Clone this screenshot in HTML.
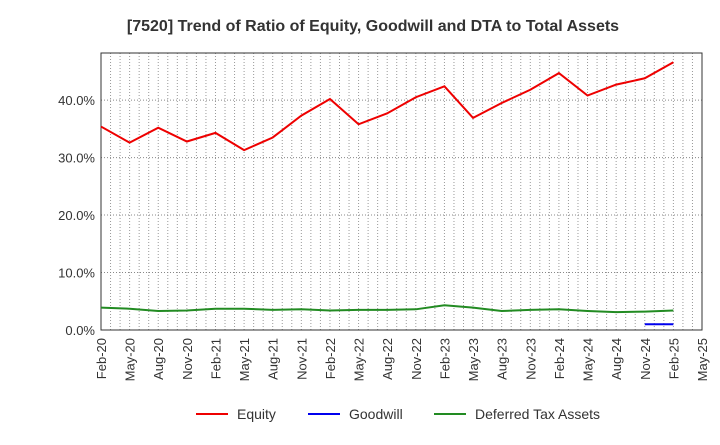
<!DOCTYPE html>
<html><head><meta charset="utf-8"><style>
body{margin:0;background:#fff;font-family:"Liberation Sans",sans-serif}
</style></head><body>
<svg id="c" width="720" height="440" xmlns="http://www.w3.org/2000/svg">
<text x="373" y="31" text-anchor="middle" font-size="16" font-weight="bold" fill="#333">[7520]  Trend of Ratio of Equity, Goodwill and DTA to Total Assets</text>
<g id="grid"></g><g id="axes"></g><g id="series"></g>
<g>
<line x1="196" y1="414" x2="228" y2="414" stroke="#e00" stroke-width="2"/><text x="237" y="419" font-size="14" fill="#333">Equity</text>
<line x1="308" y1="414" x2="340" y2="414" stroke="#00e" stroke-width="2"/><text x="349" y="419" font-size="14" fill="#333">Goodwill</text>
<line x1="434" y1="414" x2="466" y2="414" stroke="#228b22" stroke-width="2"/><text x="475" y="419" font-size="14" fill="#333">Deferred Tax Assets</text>
</g>
</svg>
<script>
const categories=["Feb-20","May-20","Aug-20","Nov-20","Feb-21","May-21","Aug-21","Nov-21","Feb-22","May-22","Aug-22","Nov-22","Feb-23","May-23","Aug-23","Nov-23","Feb-24","May-24","Aug-24","Nov-24","Feb-25","May-25"];
const equity=[35.4,32.6,35.2,32.8,34.3,31.3,33.5,37.3,40.2,35.8,37.7,40.5,42.4,36.9,39.5,41.8,44.7,40.8,42.7,43.8,46.6];
const goodwill=[null,null,null,null,null,null,null,null,null,null,null,null,null,null,null,null,null,null,null,1.0,1.0];
const dta=[3.9,3.7,3.3,3.4,3.7,3.7,3.5,3.6,3.4,3.5,3.5,3.6,4.3,3.9,3.3,3.5,3.6,3.3,3.1,3.2,3.4];
const yTicks=[0,10,20,30,40];
const L=101,R=702,T=53,B=330,YMAX=48.2;
const ns="http://www.w3.org/2000/svg";
const xs=i=>L+i*(R-L)/(categories.length-1);
const ys=v=>B-v/YMAX*(B-T);
function mk(tag,at,par){const e=document.createElementNS(ns,tag);for(const k in at)e.setAttribute(k,at[k]);document.getElementById(par).appendChild(e);return e;}
const months=(categories.length-1)*3;
for(let m=1;m<months;m++){const x=L+m*(R-L)/months;const e=mk("line",{x1:x,x2:x,y1:T,y2:B,stroke:"#999","stroke-dasharray":"1,2","stroke-width":1},"grid");

}
yTicks.forEach(v=>{const y=ys(v);if(v>0){const g=mk("line",{x1:L,x2:R,y1:y,y2:y,stroke:"#888","stroke-dasharray":"1,2"},"grid");

}
const t=mk("text",{x:L-6,y:y+5,"text-anchor":"end","font-size":13,fill:"#333"},"axes");t.textContent=v.toFixed(1)+"%";

});
const fr=mk("rect",{x:L,y:T,width:R-L,height:B-T,fill:"none",stroke:"#333"},"axes");


categories.forEach((c,i)=>{const x=xs(i);const t=mk("text",{x:x+5,y:B+8,"text-anchor":"end","font-size":13,fill:"#333",transform:`rotate(-90 ${x+5} ${B+8})`},"axes");t.textContent=c;

});
function line(data,color,name){let d="",pen=false;data.forEach((v,i)=>{if(v==null){pen=false;return;}d+=(pen?"L":"M")+xs(i)+" "+ys(v)+" ";pen=true;});
const p=mk("path",{d,fill:"none",stroke:color,"stroke-width":2},"series");

}
line(dta,"#228b22","dta-line");line(goodwill,"#00e","goodwill-line");line(equity,"#e00","equity-line");
</script>
</body></html>
